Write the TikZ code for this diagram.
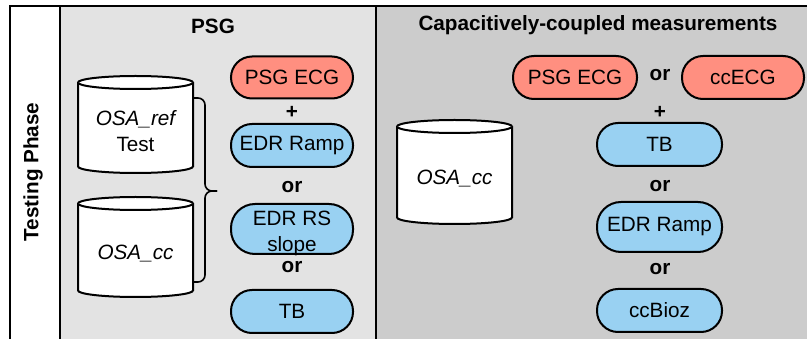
\documentclass[tikz,border=0pt]{standalone}
\usepackage{fontspec}
\setmainfont{Liberation Sans}
\usetikzlibrary{calc}
\definecolor{salmon}{HTML}{FF8F80}
\definecolor{skyblue}{HTML}{99D1F2}
\definecolor{panelA}{HTML}{E3E3E3}
\definecolor{panelB}{HTML}{CCCCCC}
\tikzset{
  txt/.style={font=\fontsize{20.7}{26}\selectfont, inner sep=0pt},
  bold/.style={txt, font=\fontsize{20.7}{26}\selectfont\bfseries},
  pill/.style={txt, draw=black, line width=2pt, rounded corners=21pt,
    minimum width=122pt, minimum height=43pt, align=center},
  ecg/.style={pill, fill=salmon},
  sig/.style={pill, fill=skyblue},
  frame/.style={line width=2pt, draw=black},
  cyl/.style={line width=2pt, draw=black, fill=white},
}
% cylinder: #1 = left x, #2 = right x, #3 = top y, #4 = bottom y (ellipse half height 6.5)
\newcommand{\dbcylinder}[4]{%
  \pgfmathsetmacro{\cylrx}{(#2-#1)/2}%
  \draw[cyl] (#1,#3+6.5) -- (#1,#4-6.5) arc[start angle=180, end angle=360, x radius=\cylrx pt, y radius=6.5pt]
    -- (#2,#3+6.5) arc[start angle=0, end angle=180, x radius=\cylrx pt, y radius=6.5pt] -- cycle;
  \draw[cyl] (#1,#3+6.5) arc[start angle=180, end angle=360, x radius=\cylrx pt, y radius=6.5pt];
}
\begin{document}
\begin{tikzpicture}[x=1pt, y=-1pt]
\useasboundingbox (0,0) rectangle (807,339);

% panels
\fill[white] (10,6) rectangle (59.5,345);
\fill[panelA] (59.5,6) rectangle (376,345);
\fill[panelB] (376,6) rectangle (815,345);
\draw[frame] (10,345) -- (10,6) -- (815,6);
\draw[frame] (59.5,6) -- (59.5,345);
\draw[frame] (376,6) -- (376,345);

% headings
\node[bold, rotate=90] (phase) at (33,172) {Testing Phase};
\node[bold] (psgtitle) at (213,26) {PSG};
\node[bold] (cctitle) at (598,25) {Capacitively-coupled measurements};

% PSG panel: databases
\dbcylinder{78}{193}{76}{173}
\node[txt, align=center] (osaref) at (135.5,131) {\itshape OSA\_ref\\Test};
\dbcylinder{78}{193}{197}{297}
\node[txt] (osacc) at (135.5,254) {\itshape OSA\_cc};

% brace grouping the two databases
\draw[line width=1.6pt, rounded corners=7pt] (192,98) -- (205,98) -- (205,191) -- (217,191);
\draw[line width=1.6pt, rounded corners=7pt] (192,282) -- (205,282) -- (205,191) -- (217,191);

% PSG panel: signals
\node[ecg, minimum height=42pt] (psgecgA) at (292,77.5) {PSG ECG};
\node[bold] (plusA) at (292,112) {+};
\node[sig] (edrrampA) at (292,145.5) {EDR Ramp};
\node[bold] (orA1) at (292,187) {or};
\node[sig, minimum height=50pt, rounded corners=24pt] (edrrs) at (292,229) {};
\node[txt, align=center] (edrrstext) at (292,233) {EDR RS\\slope};
\node[bold] (orA2) at (292,267) {or};
\node[sig] (tbA) at (292,311.5) {TB};

% capacitively-coupled panel
\dbcylinder{397}{512}{120}{224}
\node[txt] (osaccB) at (454.5,179) {\itshape OSA\_cc};

\node[ecg, minimum width=124pt] (psgecgB) at (575,77.5) {PSG ECG};
\node[bold] (orB0) at (660,75) {or};
\node[ecg] (ccecg) at (743,77.5) {ccECG};
\node[bold] (plusB) at (660,112) {+};
\node[sig, minimum width=125pt] (tbB) at (659.5,144.5) {TB};
\node[bold] (orB1) at (660,186) {or};
\node[sig, minimum width=125pt, minimum height=50pt, rounded corners=24pt] (edrrampB) at (659.5,227) {EDR Ramp};
\node[bold] (orB2) at (660,269) {or};
\node[sig, minimum width=125pt] (ccbioz) at (659.5,310.5) {ccBioz};
\end{tikzpicture}
\end{document}
